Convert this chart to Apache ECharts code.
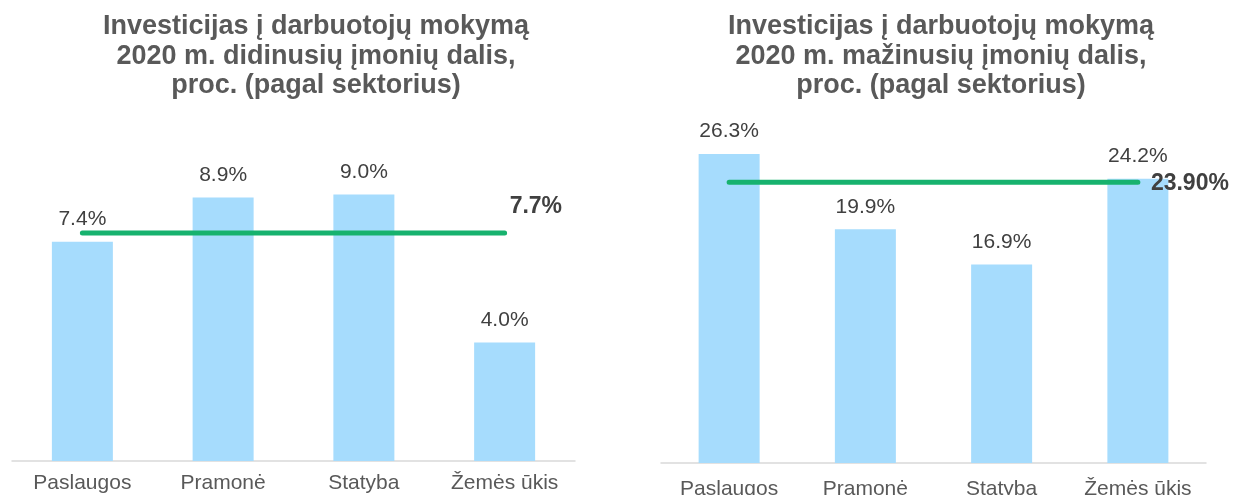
<!DOCTYPE html>
<html>
<head>
<meta charset="utf-8">
<script src="https://cdn.jsdelivr.net/npm/echarts@6/dist/echarts.min.js"></script>
<style>
    html, body { margin: 0; padding: 0; background: #fff; }
    #chart { width: 1234px; height: 495px; }
</style>
</head>
<body>
<div id="chart"></div>
<script>
// 数据
const categories = ['Paslaugos', 'Pramonė', 'Statyba', 'Žemės ūkis'];
const grewValues = [7.4, 8.9, 9.0, 4.0];
const grewAvg = 7.7;
const fellValues = [26.3, 19.9, 16.9, 24.2];
const fellAvg = 23.9;
const titleLeft = 'Investicijas į darbuotojų mokymą\n2020 m. didinusių įmonių dalis,\nproc. (pagal sektorius)';
const titleRight = 'Investicijas į darbuotojų mokymą\n2020 m. mažinusių įmonių dalis,\nproc. (pagal sektorius)';

const FONT = '"Liberation Sans", Arial, sans-serif';
const barColor = '#a6dcfd';
const lineColor = '#17b26e';

let mychart = echarts.init(document.getElementById('chart'));

function xAxisCfg(idx, margin) {
    return {
        type: 'category',
        gridIndex: idx,
        data: categories,
        axisTick: { show: false },
        axisLine: { lineStyle: { color: '#d9d9d9', width: 1.5 } },
        axisLabel: { interval: 0, color: '#595959', fontSize: 21, fontFamily: FONT, margin: margin }
    };
}
function yAxisCfg(idx, max) {
    return {
        type: 'value',
        gridIndex: idx,
        min: 0,
        max: max,
        show: false,
        splitLine: { show: false }
    };
}
function barSeries(idx, data) {
    return {
        type: 'bar',
        xAxisIndex: idx,
        yAxisIndex: idx,
        data: data,
        barWidth: 61,
        itemStyle: { color: barColor },
        label: {
            show: true,
            position: 'top',
            distance: 12,
            color: '#404040',
            fontSize: 21,
            fontFamily: FONT,
            formatter: p => p.value.toFixed(1) + '%'
        }
    };
}
// 平均线
function avgSeries(idx, avg, text, offset) {
    return {
        type: 'line',
        xAxisIndex: idx,
        yAxisIndex: idx,
        z: 5,
        symbol: 'none',
        lineStyle: { color: lineColor, width: 5, cap: 'round' },
        data: categories.map(() => avg),
        endLabel: {
            show: true,
            distance: 5,
            offset: offset,
            formatter: text,
            color: '#404040',
            fontSize: 23,
            fontWeight: 'bold',
            fontFamily: FONT
        }
    };
}

let option = {
    animation: false,
    title: [
        {
            text: titleLeft, left: 311, top: 7, textAlign: 'center',
            textStyle: { color: '#595959', fontSize: 27, fontWeight: 'bold', fontFamily: FONT, lineHeight: 29.5 }
        },
        {
            text: titleRight, left: 936, top: 7, textAlign: 'center',
            textStyle: { color: '#595959', fontSize: 27, fontWeight: 'bold', fontFamily: FONT, lineHeight: 29.5 }
        }
    ],
    grid: [
        { left: 12, width: 563, top: 150, bottom: 34, outerBoundsMode: 'none' },
        { left: 661, width: 545, top: 140, bottom: 32, outerBoundsMode: 'none' }
    ],
    xAxis: [xAxisCfg(0, 12), xAxisCfg(1, 16)],
    yAxis: [yAxisCfg(0, 10.5), yAxisCfg(1, 27.5)],
    series: [
        barSeries(0, grewValues),
        barSeries(1, fellValues),
        avgSeries(0, grewAvg, grewAvg.toFixed(1) + '%', [0, -26]),
        avgSeries(1, fellAvg, fellAvg.toFixed(2) + '%', [8, 1])
    ]
};
mychart.setOption(option);
</script>
</body>
</html>
